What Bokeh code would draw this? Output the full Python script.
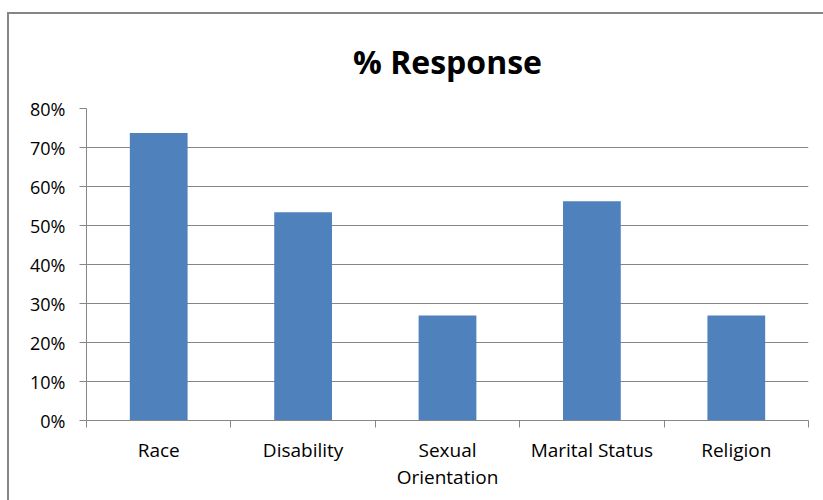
from bokeh.plotting import figure
from bokeh.models import FixedTicker, NumeralTickFormatter, LinearAxis, Range1d, ColumnDataSource
from bokeh.embed import file_html
from bokeh.resources import INLINE

# Share of responses per question category
categories = ["Race", "Disability", "Sexual\nOrientation", "Marital Status", "Religion"]
responses = [0.737, 0.534, 0.269, 0.562, 0.269]
y_ticks = [0.0, 0.1, 0.2, 0.3, 0.4, 0.5, 0.6, 0.7, 0.8]
chart_title = "% Response"

FONT = "Open Sans"
GRAY = "#868686"
BAR = "#4F81BD"

centers = [i + 0.5 for i in range(len(categories))]
bounds = list(range(len(categories) + 1))
source = ColumnDataSource(dict(x=centers, top=responses, name=categories))

p = figure(
    width=816, height=488,
    x_range=Range1d(0, len(categories)), y_range=Range1d(0, 0.8),
    output_backend="svg", toolbar_location=None,
    x_axis_location=None,
    min_border_left=77, min_border_right=17, min_border_top=94, min_border_bottom=82,
    title=chart_title,
)
p.margin = (12, 0, 0, 7)
p.styles = {"border-top": f"2px solid {GRAY}", "border-left": f"2px solid {GRAY}"}

p.title.align = "center"
p.title.vertical_align = "top"
p.title.text_font = FONT
p.title.text_font_size = "32px"
p.title.text_font_style = "bold"
p.title.text_color = "black"
p.title.standoff = 47

p.outline_line_color = None
p.background_fill_color = "white"
p.border_fill_color = "white"

p.vbar(x="x", top="top", width=0.4, source=source, fill_color=BAR, line_color=None)

# Y axis
yax = p.yaxis[0]
yax.ticker = FixedTicker(ticks=y_ticks)
yax.formatter = NumeralTickFormatter(format="0%")
yax.axis_line_color = GRAY
yax.major_tick_line_color = GRAY
yax.major_tick_in = 0
yax.major_tick_out = 7
yax.minor_tick_line_color = None
yax.major_label_text_font = FONT
yax.major_label_text_font_size = "18px"
yax.major_label_text_color = "black"
yax.major_label_standoff = 14

p.ygrid.ticker = FixedTicker(ticks=y_ticks)
p.ygrid.grid_line_color = GRAY
p.xgrid.visible = False

# X axis: names at bar centers, small ticks on category boundaries
xax = LinearAxis(ticker=FixedTicker(ticks=centers, minor_ticks=bounds))
xax.major_label_overrides = {c: n for c, n in zip(centers, categories)}
xax.axis_line_color = GRAY
xax.major_tick_line_color = None
xax.major_tick_in = 0
xax.major_tick_out = 0
xax.minor_tick_line_color = GRAY
xax.minor_tick_in = 0
xax.minor_tick_out = 7
xax.major_label_text_font = FONT
xax.major_label_text_font_size = "19px"
xax.major_label_text_line_height = 1.05
xax.major_label_text_color = "black"
xax.major_label_standoff = 9
p.add_layout(xax, "below")

open("out.html", "w").write(file_html(p, INLINE))
